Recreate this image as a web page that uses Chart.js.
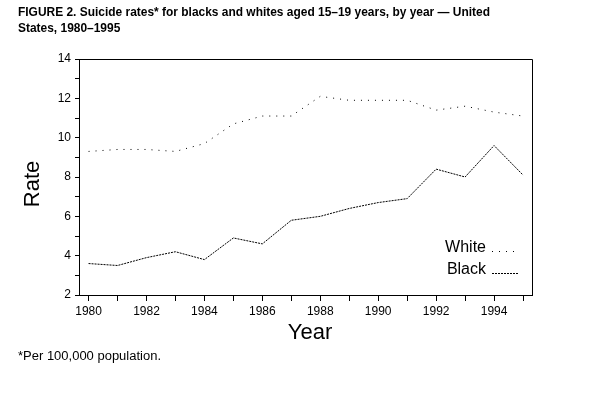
<!DOCTYPE html>
<html><head><meta charset="utf-8">
<script src="https://cdn.jsdelivr.net/npm/chart.js@4"></script>
<style>
html,body{margin:0;padding:0;background:#fff;}
#wrap{position:relative;width:606px;height:393px;overflow:hidden;}
canvas{position:absolute;left:0;top:0;}
#title{position:absolute;left:18px;top:4px;width:590px;font:bold 13px "Liberation Sans",Arial,sans-serif;line-height:16px;color:#000;transform-origin:0 0;white-space:nowrap;}
#foot{position:absolute;left:18px;top:349px;font:12px "Liberation Sans",Arial,sans-serif;color:#000;white-space:nowrap;transform-origin:0 0;}
</style></head><body>
<div id="wrap">
<canvas id="c" width="606" height="393"></canvas>
<div id="title"><span id="t1">FIGURE 2. Suicide rates* for blacks and whites aged 15–19 years, by year — United</span><br><span>States, 1980–1995</span></div>
<div id="foot"><span id="f1">*Per 100,000 population.</span></div>
</div>
<script>
const years = [1980,1981,1982,1983,1984,1985,1986,1987,1988,1989,1990,1991,1992,1993,1994,1995];
const whiteRates = [9.3,9.4,9.4,9.3,9.7,10.7,11.1,11.1,12.1,11.9,11.9,11.9,11.4,11.6,11.3,11.1];
const blackRates = [3.6,3.5,3.9,4.2,3.8,4.9,4.6,5.8,6.0,6.4,6.7,6.9,8.4,8.0,9.6,8.1];
const yTicks = [2,3,4,5,6,7,8,9,10,11,12,13,14];
const seriesNames = ["White","Black"];
const xTitle = "Year";
const yTitle = "Rate";

// fit title / footnote widths
const tw = document.getElementById('t1').getBoundingClientRect().width;
document.getElementById('title').style.transform = 'scaleX(' + (472/tw) + ')';
const fw = document.getElementById('f1').getBoundingClientRect().width;
document.getElementById('foot').style.transform = 'scaleX(' + (143/fw) + ')';

const FONT = '"Liberation Sans", Arial, sans-serif';

const framePlugin = {
  id:'frame',
  afterDraw(chart){
    const {ctx, chartArea:a} = chart;
    ctx.save();
    ctx.strokeStyle='#000'; ctx.lineWidth=1;
    ctx.beginPath();
    ctx.moveTo(a.left+0.5, a.top+0.5); ctx.lineTo(a.right+0.5, a.top+0.5);
    ctx.lineTo(a.right+0.5, a.bottom+0.5);
    ctx.stroke();
    // legend
    ctx.font = '16px ' + FONT;
    ctx.fillStyle='#000';
    ctx.textBaseline='middle';
    const ds = chart.data.datasets;
    const legY = [248, 270];
    ds.forEach((d,i)=>{
      ctx.textAlign='right';
      ctx.fillText(d.label, 486, legY[i]);
      ctx.setLineDash(d.borderDash);
      ctx.beginPath();
      ctx.moveTo(492, legY[i]+3.5); ctx.lineTo(519, legY[i]+3.5);
      ctx.stroke();
    });
    ctx.setLineDash([]);
    // axis titles
    ctx.font = '22px ' + FONT;
    ctx.textAlign='center'; ctx.textBaseline='middle';
    ctx.fillText(xTitle, 310, 333);
    ctx.translate(33, 184);
    ctx.rotate(-Math.PI/2);
    ctx.fillText(yTitle, 0, 0);
    ctx.restore();
  }
};

new Chart(document.getElementById('c'), {
  type:'line',
  data:{
    datasets:[
      {label:seriesNames[0], data:years.map((y,i)=>({x:y,y:whiteRates[i]})), borderColor:'#000', borderWidth:1, borderDash:[1,6], pointRadius:0, tension:0, fill:false},
      {label:seriesNames[1], data:years.map((y,i)=>({x:y,y:blackRates[i]})), borderColor:'#000', borderWidth:1, borderDash:[2,1], pointRadius:0, tension:0, fill:false}
    ]
  },
  options:{
    responsive:false, animation:false, devicePixelRatio:1,
    layout:{padding:{left:18,top:59,right:74,bottom:0}},
    plugins:{legend:{display:false}, tooltip:{enabled:false}},
    scales:{
      x:{type:'linear', min:1979.67, max:1995.31,
        afterBuildTicks(s){ s.ticks = years.map(v=>({value:v})); },
        afterFit(s){ s.height = 98; },
        grid:{display:true, drawOnChartArea:false, drawTicks:true, tickLength:6, color:'#000', tickColor:'#000'},
        border:{display:true, color:'#000', width:1},
        ticks:{color:'#000', font:{family:FONT, size:12}, padding:3, maxRotation:0, autoSkip:false,
          callback:(v)=> (v%2===0 ? String(v) : '')}
      },
      y:{type:'linear', min:2, max:14,
        afterBuildTicks(s){ s.ticks = yTicks.map(v=>({value:v})); },
        afterFit(s){ s.width = 61; },
        grid:{display:true, drawOnChartArea:false, drawTicks:true, tickLength:4, color:'#000', tickColor:'#000'},
        border:{display:true, color:'#000', width:1},
        ticks:{color:'#000', font:{family:FONT, size:12}, padding:4, autoSkip:false,
          callback:(v)=> (v%2===0 ? String(v) : '')}
      }
    }
  },
  plugins:[framePlugin]
});
</script>
</body></html>
